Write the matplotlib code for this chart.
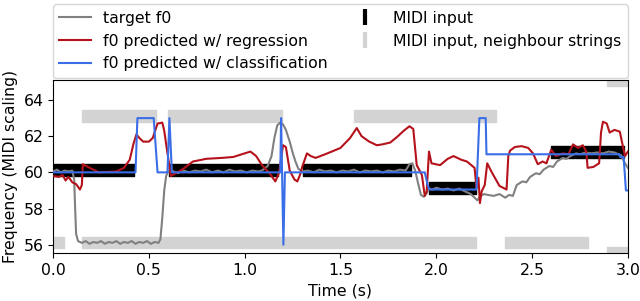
import numpy as np
import matplotlib
matplotlib.use("Agg")
import matplotlib.pyplot as plt
from matplotlib.lines import Line2D

plt.rcParams['font.size'] = 11.3

# MIDI notes: (onset, offset, pitch)
midi_notes = [(0.0, 0.42, 60), (0.607, 1.175, 60), (1.305, 1.87, 60),
              (1.963, 2.21, 59), (2.60, 2.98, 61)]
neighbour_notes = [(0.0, 0.057, 56), (0.153, 0.537, 63), (0.153, 2.205, 56),
                   (0.601, 1.196, 63), (1.57, 2.31, 63), (2.36, 2.79, 56),
                   (2.89, 3.0, 55.4), (2.89, 3.0, 65)]

target_t = [0.00, 0.02, 0.04, 0.06, 0.08, 0.10, 0.11, 0.115, 0.12, 0.13, 0.15, 0.17,
            0.19, 0.21, 0.23, 0.25, 0.27, 0.29, 0.31, 0.33, 0.35, 0.37, 0.39, 0.41,
            0.43, 0.45, 0.47, 0.49, 0.51, 0.53, 0.55, 0.56, 0.57, 0.58, 0.59, 0.60,
            0.62, 0.65, 0.68, 0.71, 0.74, 0.77, 0.80, 0.83, 0.86, 0.89, 0.92, 0.95,
            0.98, 1.01, 1.04, 1.07, 1.09, 1.12, 1.14, 1.155, 1.17, 1.185, 1.20, 1.215,
            1.235, 1.25, 1.265, 1.28, 1.30, 1.33, 1.36, 1.39, 1.42, 1.45, 1.48, 1.51,
            1.54, 1.57, 1.60, 1.63, 1.66, 1.69, 1.72, 1.75, 1.78, 1.81, 1.84, 1.86,
            1.875, 1.89, 1.905, 1.92, 1.935, 1.95, 1.96, 1.98, 2.00, 2.03, 2.06, 2.09,
            2.12, 2.15, 2.18, 2.20, 2.215, 2.23, 2.25, 2.27, 2.30, 2.33, 2.36, 2.38,
            2.40, 2.42, 2.45, 2.47, 2.49, 2.52, 2.54, 2.56, 2.59, 2.61, 2.63, 2.66,
            2.68, 2.70, 2.73, 2.75, 2.78, 2.81, 2.84, 2.87, 2.90, 2.93, 2.95, 2.965,
            2.98, 3.00]
target_f0 = [60.05, 60.15, 60.0, 60.1, 60.05, 60.1, 59.6, 58.0, 56.6, 56.2, 56.1, 56.2,
             56.05, 56.15, 56.1, 56.2, 56.05, 56.15, 56.1, 56.2, 56.05, 56.15, 56.1, 56.2,
             56.05, 56.15, 56.1, 56.2, 56.05, 56.15, 56.1, 56.3, 57.5, 59.0, 59.8, 60.05,
             60.1, 59.95, 60.1, 60.0, 60.1, 60.05, 60.15, 60.0, 60.1, 60.0, 60.15, 60.05,
             60.1, 60.0, 60.1, 60.05, 60.1, 60.35, 60.9, 61.9, 62.6, 62.75, 62.65, 62.35,
             61.7, 61.1, 60.6, 60.2, 60.05, 60.1, 60.0, 60.15, 60.05, 60.1, 60.0, 60.1,
             60.05, 60.15, 60.0, 60.1, 60.05, 60.1, 60.0, 60.1, 60.05, 60.15, 60.1, 60.45,
             60.5, 60.1, 59.4, 58.75, 58.65, 58.85, 59.1, 59.05, 59.15, 59.05, 59.1, 59.0,
             59.1, 58.95, 58.8, 58.6, 58.45, 58.7, 58.8, 58.75, 58.7, 58.8, 58.6, 58.75,
             58.7, 59.3, 59.5, 59.45, 59.75, 59.95, 59.9, 60.15, 60.35, 60.3, 60.6, 60.8,
             60.75, 60.9, 61.05, 61.0, 61.1, 61.05, 61.1, 61.05, 61.15, 61.1, 61.0, 60.95,
             60.6, 60.25]

reg_t = [0.00, 0.03, 0.05, 0.065, 0.08, 0.10, 0.12, 0.14, 0.15, 0.155, 0.20, 0.24,
         0.33, 0.37, 0.40, 0.42, 0.435, 0.45, 0.47, 0.50, 0.52, 0.545, 0.57, 0.58,
         0.595, 0.615, 0.64, 0.68, 0.73, 0.80, 0.88, 0.94, 1.00, 1.03, 1.06, 1.09,
         1.13, 1.16, 1.18, 1.20, 1.215, 1.235, 1.26, 1.275, 1.29, 1.30, 1.325, 1.345,
         1.37, 1.42, 1.50, 1.55, 1.585, 1.61, 1.65, 1.69, 1.72, 1.76, 1.80, 1.83,
         1.86, 1.88, 1.898, 1.925, 1.94, 1.95, 1.962, 1.975, 2.02, 2.06, 2.09, 2.13,
         2.16, 2.20, 2.21, 2.22, 2.228, 2.237, 2.253, 2.266, 2.29, 2.33, 2.367, 2.376,
         2.385, 2.41, 2.445, 2.48, 2.505, 2.53, 2.555, 2.575, 2.60, 2.625, 2.66, 2.69,
         2.714, 2.74, 2.765, 2.783, 2.79, 2.82, 2.85, 2.86, 2.87, 2.89, 2.905, 2.93,
         2.958, 2.975, 2.985, 3.00]
reg_f0 = [59.80, 59.75, 59.85, 59.55, 59.75, 59.45, 59.35, 59.05, 59.3, 60.45, 60.2, 60.0,
          60.05, 60.25, 60.7, 61.6, 62.1, 61.9, 61.7, 61.7, 61.9, 62.7, 62.75, 62.3,
          61.2, 59.8, 59.95, 60.2, 60.6, 60.75, 60.8, 60.85, 61.05, 61.15, 60.9, 60.4,
          59.95, 59.5, 60.0, 61.5, 61.4, 60.1, 59.6, 59.5, 59.9, 60.3, 61.05, 60.9,
          60.8, 61.0, 61.35, 61.9, 62.45, 62.0, 61.7, 61.5, 61.55, 61.65, 62.0, 62.3,
          62.55, 62.4, 60.4, 59.85, 58.7, 58.95, 61.15, 60.5, 60.4, 60.75, 60.9, 60.7,
          60.6, 60.25, 59.15, 59.7, 58.3, 58.95, 59.3, 60.5, 60.0, 59.25, 59.05, 60.9,
          61.2, 61.4, 61.45, 61.35, 61.05, 60.45, 60.6, 60.5, 61.25, 60.9, 61.05, 61.0,
          61.55, 61.35, 61.5, 61.15, 60.25, 60.3, 60.5, 62.2, 62.8, 62.7, 62.2, 62.35,
          62.25, 61.4, 60.9, 61.15]

cls_t = [0.0, 0.43, 0.44, 0.525, 0.545, 0.597, 0.607, 0.62, 1.186, 1.19, 1.202, 1.21,
         1.94, 1.955, 1.965, 2.21, 2.225, 2.258, 2.262, 2.955, 2.96, 2.978, 2.99, 3.0]
cls_f0 = [60, 60, 63, 63, 60, 60, 63, 60, 60, 63, 56, 60,
          60, 59.3, 59.05, 59.05, 63, 63, 61, 61, 60.85, 60.85, 59.0, 59.0]

fig = plt.figure(figsize=(6.4, 3.01), dpi=100)
ax = fig.add_axes([0.083, 0.16, 0.898, 0.575])

for on, off, p in neighbour_notes:
    ax.broken_barh([(on, off - on)], (p - 0.2, 0.65), color='lightgray', zorder=1)
for on, off, p in midi_notes:
    ax.broken_barh([(on, off - on)], (p - 0.2, 0.65), color='black', zorder=2)

l1, = ax.plot(target_t, target_f0, color='grey', lw=1.5, zorder=3, label='target f0')
l2, = ax.plot(reg_t, reg_f0, color='#b5121b', lw=1.5, zorder=4,
              label='f0 predicted w/ regression')
l3, = ax.plot(cls_t, cls_f0, color='#3a6ee8', lw=1.5, zorder=5,
              label='f0 predicted w/ classification')

ax.set_xlim(0, 3)
ax.set_ylim(55.55, 65.12)
ax.set_yticks([56, 58, 60, 62, 64])
ax.set_xlabel('Time (s)')
ax.set_ylabel('Frequency (MIDI scaling)')

m1 = Line2D([], [], color='black', marker='|', ls='none', markersize=11, mew=3,
            label='MIDI input')
m2 = Line2D([], [], color='lightgray', marker='|', ls='none', markersize=11, mew=3,
            label='MIDI input, neighbour strings')
fig.legend(handles=[l1, l2, l3, m1, m2], ncol=2, loc='lower left',
           bbox_to_anchor=(0.083, 0.742, 0.898, 0.25), mode='expand',
           borderaxespad=0)

fig.savefig('out.png')
